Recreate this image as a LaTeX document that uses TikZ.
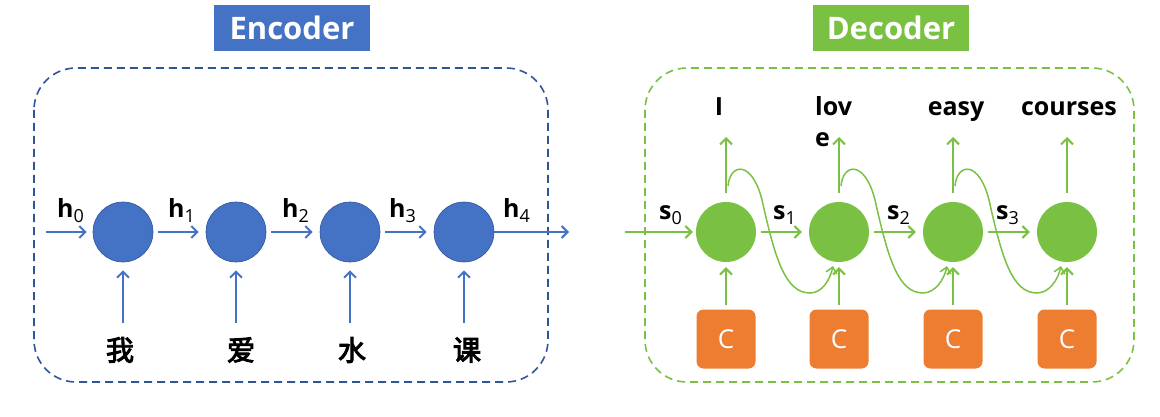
\documentclass[tikz,border=0pt]{standalone}
\usepackage{fontspec}
\setmainfont{Open Sans}
\newfontfamily\cjk{Noto Sans CJK SC}[AutoFakeBold=3.5]
\usetikzlibrary{arrows.meta,calc}
\definecolor{eblue}{HTML}{4472C4}
\definecolor{eborder}{HTML}{2F5597}
\definecolor{dgreen}{HTML}{7AC143}
\definecolor{corange}{HTML}{ED7D31}
\newcommand{\hsub}[2]{#1\raisebox{-5pt}{\fontsize{18}{18}\selectfont\mdseries #2}}
\begin{document}
\begin{tikzpicture}[x=1pt,y=-1pt,
  ecirc/.style={circle, fill=eblue, draw=eborder, line width=0.6pt, minimum size=60pt, inner sep=0},
  dcirc/.style={circle, fill=dgreen, minimum size=60pt, inner sep=0},
  cbox/.style={fill=corange, rounded corners=7pt, minimum width=59pt, minimum height=59pt, inner sep=0, text=white, font=\fontsize{26}{26}\selectfont},
  earr/.style={draw=eblue, line width=2pt, -{Straight Barb[length=6pt,width=12pt]}},
  darr/.style={draw=dgreen, line width=2pt, -{Straight Barb[length=6pt,width=12pt]}},
  dcurve/.style={draw=dgreen, line width=1.5pt, -{Straight Barb[length=6pt,width=11pt]}},
  title/.style={minimum width=156pt, minimum height=46pt, inner sep=0, text=white, font=\fontsize{31}{31}\selectfont\bfseries},
  lab/.style={font=\fontsize{25}{25}\selectfont\bfseries, inner sep=0},
  cn/.style={font=\cjk\fontsize{28}{28}\selectfont\bfseries, inner sep=0},
  ebox/.style={draw=eborder, line width=1.6pt, dash pattern=on 8pt off 5pt, rounded corners=42pt},
  dbox/.style={draw=dgreen, line width=1.6pt, dash pattern=on 8pt off 5pt, rounded corners=42pt}
]
\useasboundingbox (0,0) rectangle (1160,417);

% ---------- Encoder ----------
\node[title, fill=eblue] (enct) at (292,28) {Encoder};
\draw[ebox] (34,68) rectangle (548,382);

\node[ecirc] (e1) at (123,232) {};
\node[ecirc] (e2) at (236,232) {};
\node[ecirc] (e3) at (350,232) {};
\node[ecirc] (e4) at (464,232) {};

\coordinate (ein) at (46,232);
\coordinate (eout) at (569,232);
\draw[earr, shorten >=6pt] (ein) -- (e1.west);
\draw[earr, shorten <=5pt, shorten >=7pt] (e1.east) -- (e2.west);
\draw[earr, shorten <=5pt, shorten >=7pt] (e2.east) -- (e3.west);
\draw[earr, shorten <=5pt, shorten >=7pt] (e3.east) -- (e4.west);
\draw[earr] (e4.east) -- (eout);

\node[lab, anchor=base west] (h0) at (57,218) {\hsub{h}{0}};
\node[lab, anchor=base west] (h1) at (168,218) {\hsub{h}{1}};
\node[lab, anchor=base west] (h2) at (282,218) {\hsub{h}{2}};
\node[lab, anchor=base west] (h3) at (389,218) {\hsub{h}{3}};
\node[lab, anchor=base west] (h4) at (503,218) {\hsub{h}{4}};

\node[cn] (w1) at (120,350) {我};
\node[cn] (w2) at (241,350) {爱};
\node[cn] (w3) at (352,350) {水};
\node[cn] (w4) at (467,350) {课};

\foreach \i in {1,...,4}{
  \coordinate (eb\i) at ($(e\i)+(0,91)$);
  \draw[earr, shorten >=8pt] (eb\i) -- (e\i.south);
}

% ---------- Decoder ----------
\node[title, fill=dgreen] (dect) at (891,28) {Decoder};
\draw[dbox] (645,68) rectangle (1134,382);

\node[dcirc] (d1) at (726,232) {};
\node[dcirc] (d2) at (839,232) {};
\node[dcirc] (d3) at (953,232) {};
\node[dcirc] (d4) at (1067,232) {};

\coordinate (din) at (625,232);
\draw[darr, shorten >=3pt] (din) -- (d1.west);
\draw[darr, shorten <=5pt, shorten >=7pt] (d1.east) -- (d2.west);
\draw[darr, shorten <=5pt, shorten >=7pt] (d2.east) -- (d3.west);
\draw[darr, shorten <=5pt, shorten >=7pt] (d3.east) -- (d4.west);

\node[lab, anchor=base west] (s0) at (659,219) {\hsub{s}{0}};
\node[lab, anchor=base west] (s1) at (773,219) {\hsub{s}{1}};
\node[lab, anchor=base west] (s2) at (887,219) {\hsub{s}{2}};
\node[lab, anchor=base west] (s3) at (996,219) {\hsub{s}{3}};

\foreach \i in {1,...,4}{
  \coordinate (dt\i) at ($(d\i)+(0,-95)$);
  \draw[darr, shorten <=9pt] (d\i.north) -- (dt\i);
  \node[cbox] (c\i) at ($(d\i)+(0,107)$) {C};
  \draw[darr, shorten <=4pt, shorten >=5pt] (c\i.north) -- (d\i.south);
}

\node[lab, anchor=base] (o1) at (719,116) {I};
\node[lab, anchor=base west, align=left] (o2) at (815,147) {lov\\[7pt]e};
\node[lab, anchor=base] (o3) at (956,116) {easy};
\node[lab, anchor=base] (o4) at (1069,116) {courses};

\foreach \i/\j in {1/2,2/3,3/4}{
  \draw[dcurve] ($(d\i)+(2,-46)$) .. controls ($(d\i)+(4,-69)$) and ($(d\i)+(26,-72)$) .. ($(d\i)+(36,-32)$)
     .. controls ($(d\i)+(49,26)$) and ($(d\i)+(59,61)$) .. ($(d\i)+(84,61)$)
     .. controls ($(d\i)+(96,61)$) and ($(d\j)+(-9,48)$) .. ($(d\j)+(-6,34)$);
}
\end{tikzpicture}
\end{document}
